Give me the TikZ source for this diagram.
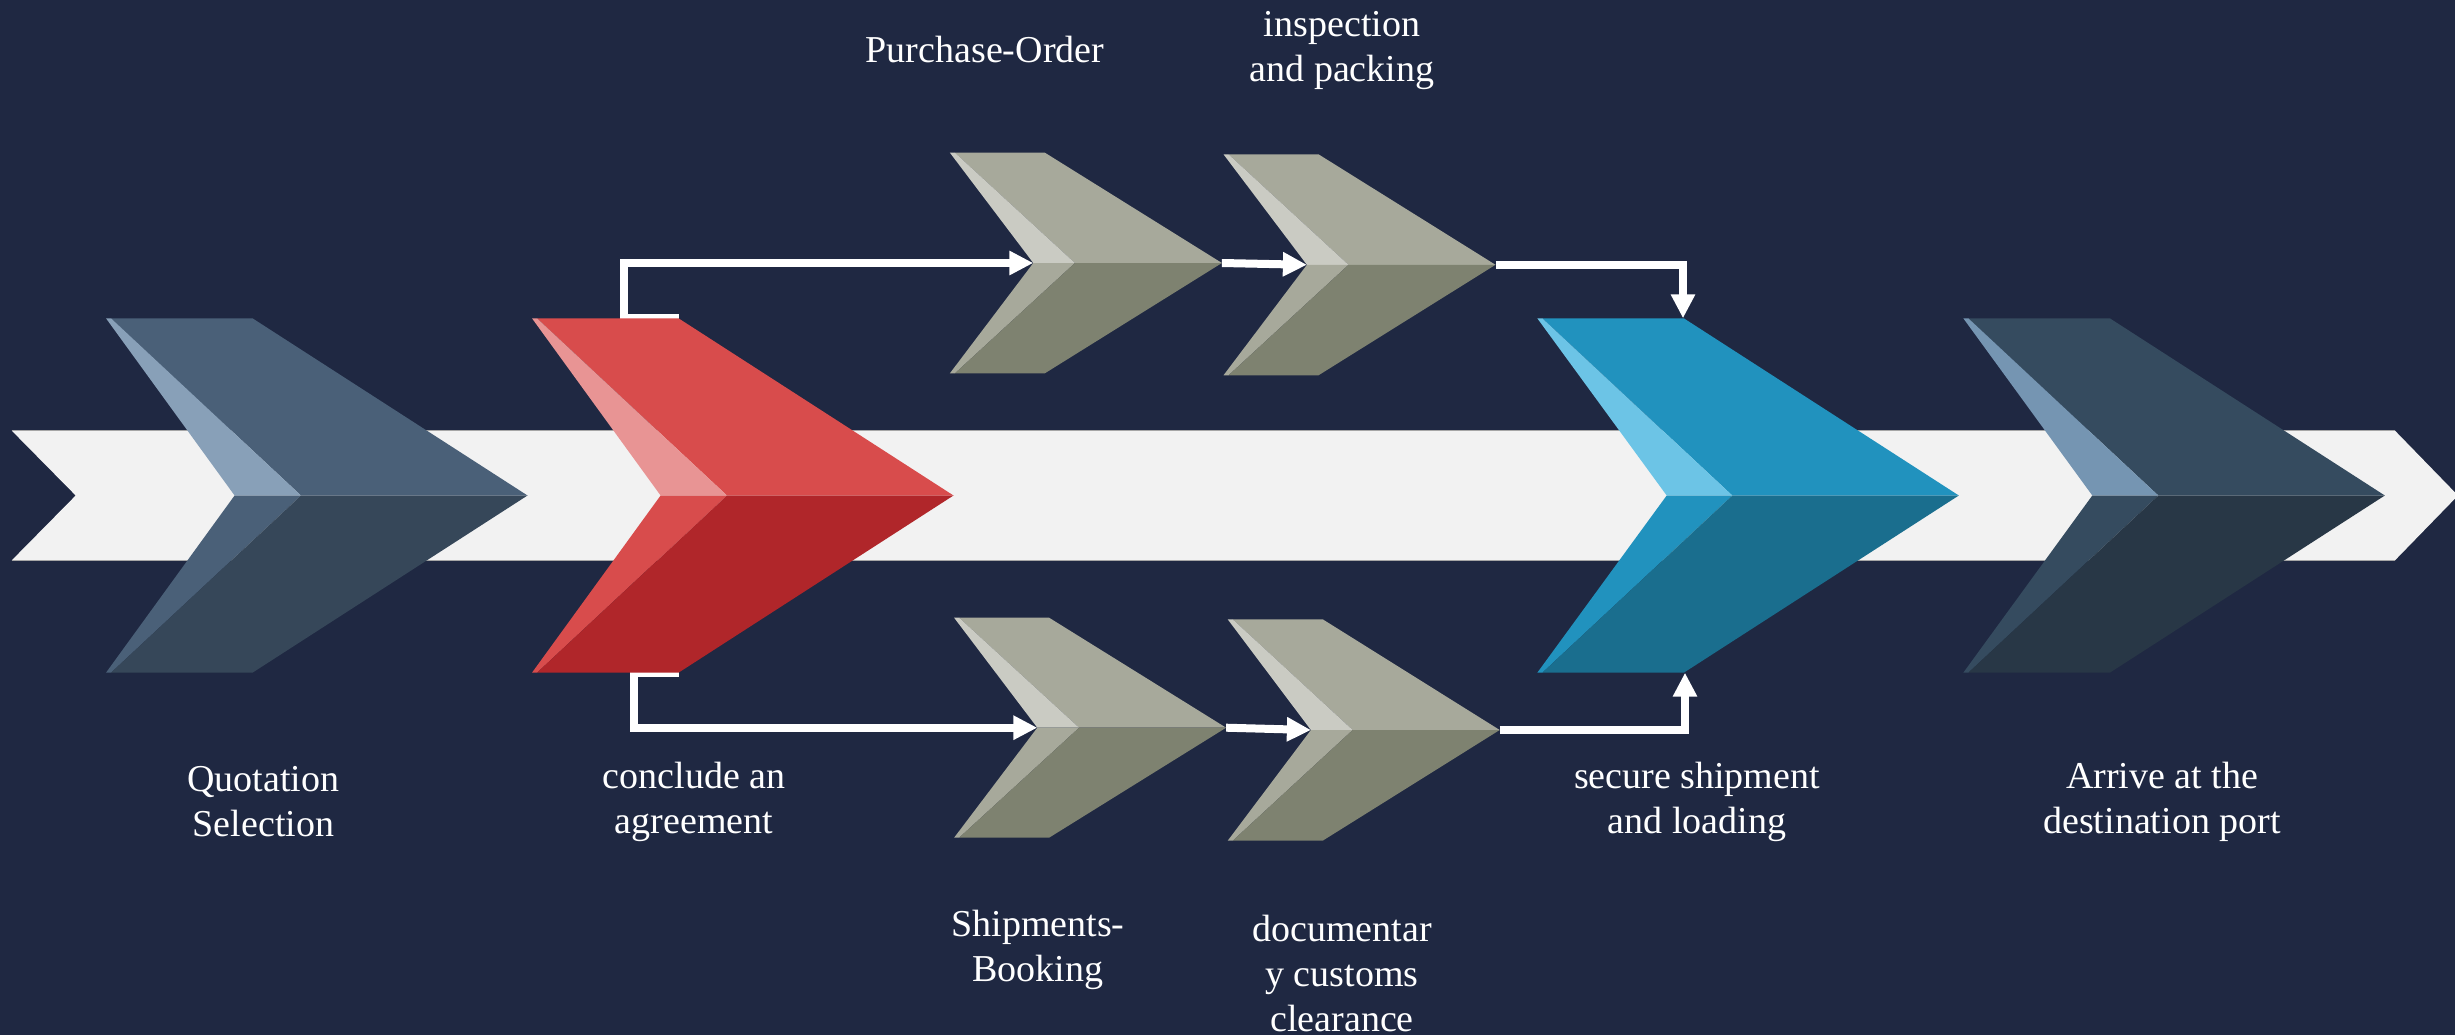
\documentclass[tikz,border=0pt]{standalone}
\usepackage{fontspec}
\setmainfont{Liberation Serif}
\usetikzlibrary{arrows.meta}
\definecolor{bgc}{HTML}{1F2842}
\definecolor{barc}{HTML}{F2F2F2}
\definecolor{slatetop}{HTML}{4A6078}
\definecolor{slatelight}{HTML}{88A0B8}
\definecolor{slatedark}{HTML}{364759}
\definecolor{redtop}{HTML}{D84C4C}
\definecolor{redlight}{HTML}{E89494}
\definecolor{reddark}{HTML}{B0262A}
\definecolor{greytop}{HTML}{A7A99B}
\definecolor{greylight}{HTML}{CACBC3}
\definecolor{greydark}{HTML}{7E8270}
\definecolor{bluetop}{HTML}{2192BE}
\definecolor{bluelight}{HTML}{6CC4E6}
\definecolor{bluedark}{HTML}{1A6E8E}
\definecolor{navytop}{HTML}{354B5F}
\definecolor{navylight}{HTML}{7595B2}
\definecolor{navydark}{HTML}{283746}
\pgfdeclarelayer{back}
\pgfdeclarelayer{links}
\pgfsetlayers{back,links,main}
% #1 name, #2 left x, #3 top y, #4 bottom y, #5 flat width, #6 tip, #7 notch, #8 bevel, #9 colour prefix
\newcommand\chevronshape[9]{%
  \coordinate (#1-tl) at (#2,#3);
  \coordinate (#1-bl) at (#2,#4);
  \coordinate (#1-tr) at ({#2+#5},#3);
  \coordinate (#1-br) at ({#2+#5},#4);
  \coordinate (#1-tip) at ({#2+#6},{(#3+#4)/2});
  \coordinate (#1-notch) at ({#2+#7},{(#3+#4)/2});
  \coordinate (#1-bev) at ({#2+#8},{(#3+#4)/2});
  \coordinate (#1-ts) at ({#2+5},#3);
  \coordinate (#1-bs) at ({#2+5},#4);
  \fill[#9top] (#1-ts) -- (#1-tr) -- (#1-tip) -- (#1-bev) -- cycle;
  \fill[#9light] (#1-tl) -- (#1-ts) -- (#1-bev) -- (#1-notch) -- cycle;
  \fill[#9top] (#1-bl) -- (#1-notch) -- (#1-bev) -- (#1-bs) -- cycle;
  \fill[#9dark] (#1-bs) -- (#1-bev) -- (#1-tip) -- (#1-br) -- cycle;
}
\begin{document}
\begin{tikzpicture}[x=1pt,y=-1pt,
  conn/.style={draw=white, line width=8pt, line join=miter, -{Triangle[length=24pt,width=23pt]}},
  lbl/.style={text=white, align=center, inner sep=0pt, font=\fontsize{38}{45}\selectfont}]
\useasboundingbox (0,0) rectangle (2455,1035);
\begin{pgfonlayer}{back}
\fill[bgc] (0,0) rectangle (2455,1035);
\fill[barc] (11.8,430.7) -- (2395,430.7) -- (2458,495.5) -- (2395,560.3) -- (11.8,560.3) -- (75.7,495.5) -- cycle;
\draw[gray!70, line width=0.8pt] (11.8,430.7) -- (2395,430.7) (11.8,560.3) -- (2395,560.3);
\end{pgfonlayer}
% big chevrons
\chevronshape{qs}{106}{318.3}{672.7}{146.5}{421.5}{128.6}{195}{slate}
\chevronshape{ca}{532}{318.3}{672.7}{146.5}{421.5}{128.6}{195}{red}
\chevronshape{ss}{1537.3}{318.3}{672.7}{146.5}{421.5}{129.4}{195}{blue}
\chevronshape{ad}{1963.3}{318.3}{672.7}{146.5}{421.5}{129}{195}{navy}
% small chevrons
\chevronshape{po}{949.9}{152.7}{373.3}{95}{272}{83.4}{125}{grey}
\chevronshape{ip}{1223.5}{154.3}{375.3}{95}{272}{83.4}{125}{grey}
\chevronshape{sb}{954.1}{617.7}{837.7}{95}{272}{83.2}{125}{grey}
\chevronshape{dc}{1227.7}{619.3}{840.7}{95}{272}{83.2}{125}{grey}
% connector corners
\coordinate (k1) at (624,318.3);
\coordinate (k2) at (634,672.7);
\coordinate (blueT) at (1683,318.3);
\coordinate (blueB) at (1685,672.7);
\begin{pgfonlayer}{links}
\draw[conn] (ca-tr) -- (k1) |- (po-notch);
\draw[conn] (ca-br) -- (k2) |- (sb-notch);
\draw[conn] (po-tip) -- (ip-notch);
\draw[conn] (sb-tip) -- (dc-notch);
\draw[conn] (ip-tip) -| (blueT);
\draw[conn] (dc-tip) -| (blueB);
\end{pgfonlayer}
% labels
\node[lbl] (lq) at (263.5,802) {Quotation\\Selection};
\node[lbl] (lc) at (694,802) {conclude an\\agreement};
\node[lbl] (lp) at (985,50) {Purchase-Order};
\node[lbl] (li) at (1342,51) {inspection\\and packing};
\node[lbl] (ls) at (1038,950) {Shipments-\\Booking};
\node[lbl] (ld) at (1342,973) {documentar\\y customs\\clearance};
\node[lbl] (lsec) at (1697,802) {secure shipment\\and loading};
\node[lbl] (la) at (2162,802) {Arrive at the\\destination port};
\end{tikzpicture}
\end{document}
